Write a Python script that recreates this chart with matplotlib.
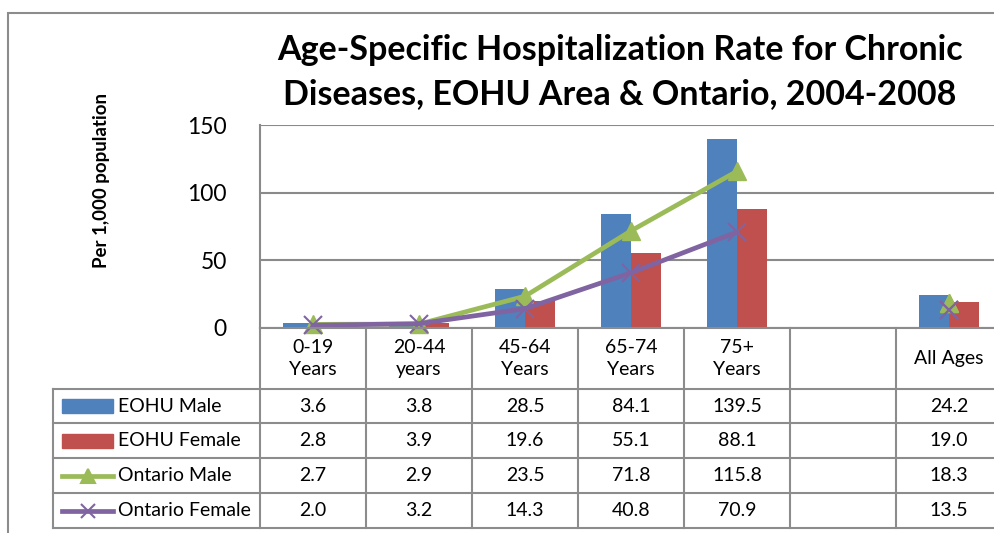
import numpy as np
import matplotlib
matplotlib.use('Agg')
import matplotlib.pyplot as plt
from matplotlib.patches import Rectangle
from matplotlib.lines import Line2D

plt.rcParams['font.family'] = ['Lato', 'DejaVu Sans']

categories = ['0-19\nYears', '20-44\nyears', '45-64\nYears', '65-74\nYears', '75+\nYears', '', 'All Ages']
eohu_male = [3.6, 3.8, 28.5, 84.1, 139.5, np.nan, 24.2]
eohu_female = [2.8, 3.9, 19.6, 55.1, 88.1, np.nan, 19.0]
ont_male = [2.7, 2.9, 23.5, 71.8, 115.8, np.nan, 18.3]
ont_female = [2.0, 3.2, 14.3, 40.8, 70.9, np.nan, 13.5]
series_names = ['EOHU Male', 'EOHU Female', 'Ontario Male', 'Ontario Female']

BLUE = '#4F81BD'
RED = '#C0504D'
GREEN = '#9BBB59'
PURPLE = '#8064A2'
GRID = '#8A8A8A'

W, H = 994, 533
fig = plt.figure(figsize=(W / 100, H / 100), dpi=100)


def px_axes(x, y, w, h, **kw):
    return fig.add_axes([x / W, 1 - (y + h) / H, w / W, h / H], **kw)


# outer chart border
fig.patches.append(Rectangle((8 / W, -0.1), 1.2, 1 - 13 / H + 0.1, transform=fig.transFigure,
                             fill=False, edgecolor='#8C8C8C', lw=1.5))

# main plot
ax = px_axes(260, 125, 742, 203)
x = np.arange(len(categories))
bw = 0.283
ax.bar(x - bw / 2, eohu_male, bw, color=BLUE, zorder=2)
ax.bar(x + bw / 2, eohu_female, bw, color=RED, zorder=2)
ax.plot(x, ont_male, color=GREEN, lw=3.4, marker='^', ms=13, zorder=3, clip_on=False)
ax.plot(x, ont_female, color=PURPLE, lw=3.4, marker='x', ms=13, mew=1.5, zorder=4, clip_on=False)
# isolated "All Ages" markers
ax.plot(x[-1], ont_male[-1], color=GREEN, marker='^', ms=13, zorder=3)
ax.plot(x[-1], ont_female[-1], color=PURPLE, marker='x', ms=13, mew=1.5, zorder=4)

ax.set_xlim(-0.5, 6.5)
ax.set_ylim(0, 150)
ax.set_yticks([0, 50, 100, 150])
ax.tick_params(axis='y', length=0, pad=24, labelsize=16.5)
ax.set_xticks([])
ax.yaxis.grid(True, color=GRID, lw=1.5, zorder=0)
for s in ['top', 'right', 'bottom']:
    ax.spines[s].set_visible(False)
ax.spines['left'].set_color(GRID)
ax.spines['left'].set_linewidth(1.5)

fig.text(620 / W, 1 - 50 / H, 'Age-Specific Hospitalization Rate for Chronic',
         ha='center', va='center', fontsize=24.5, fontweight='bold')
fig.text(620 / W, 1 - 94 / H, 'Diseases, EOHU Area & Ontario, 2004-2008',
         ha='center', va='center', fontsize=24.5, fontweight='bold')
fig.text(101 / W, 1 - 181 / H, 'Per 1,000 population', rotation=90,
         ha='center', va='center', fontsize=13.5, fontweight='bold')

# data table
tx = px_axes(53, 328, 949, 200)
left = -0.5 - (260 - 53) / 106
tx.set_xlim(left, 6.5)
tx.set_ylim(200, 0)
tx.axis('off')
row_edges = [0, 61, 95, 130, 165, 200]
tc = '#8C8C8C'
tx.plot([-0.5, 6.5], [0, 0], color=tc, lw=1.5, clip_on=False)
for yy in row_edges[1:]:
    tx.plot([left, 6.5], [yy, yy], color=tc, lw=1.5, clip_on=False)
for k in range(8):
    tx.plot([k - 0.5, k - 0.5], [0, 200], color=tc, lw=1.5, clip_on=False)
tx.plot([left, left], [61, 200], color=tc, lw=1.5, clip_on=False)

for i, lab in enumerate(categories):
    tx.text(i, 30.5, lab, ha='center', va='center', fontsize=14, linespacing=1.35)

all_series = [eohu_male, eohu_female, ont_male, ont_female]
colors = [BLUE, RED, GREEN, PURPLE]
for r, (name, vals, c) in enumerate(zip(series_names, all_series, colors)):
    yc = (row_edges[r + 1] + row_edges[r + 2]) / 2
    for i, v in enumerate(vals):
        if not np.isnan(v):
            tx.text(i, yc, f'{v:.1f}', ha='center', va='center', fontsize=14)
    hx0 = left + 9 / 106
    hx1 = left + 60 / 106
    if r < 2:
        tx.add_patch(Rectangle((hx0, yc - 7), hx1 - hx0, 14, color=c))
    else:
        m = '^' if r == 2 else 'x'
        tx.add_line(Line2D([hx0, hx1], [yc, yc], color=c, lw=3.4))
        tx.add_line(Line2D([(hx0 + hx1) / 2], [yc], color=c, marker=m, ms=10, mew=1.5))
    tx.text(left + 65 / 106, yc, name, ha='left', va='center', fontsize=14)

fig.savefig('out.png', dpi=100)
